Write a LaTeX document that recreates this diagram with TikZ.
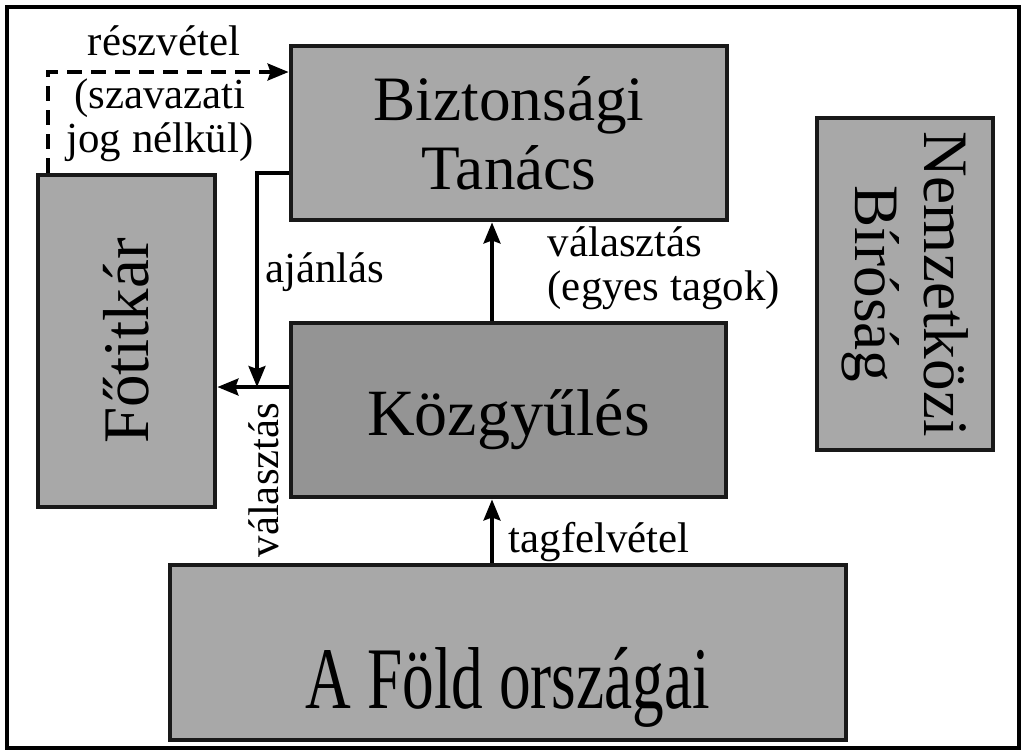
\documentclass[tikz,border=0pt]{standalone}
\usepackage{fontspec}
\setmainfont{Liberation Serif}
\usetikzlibrary{arrows.meta}

\tikzset{
  box/.style={draw=black!90,line width=1.4pt,fill=black!34,inner sep=0pt,align=center},
  lbl/.style={font=\fontsize{12.2}{12.6}\selectfont,inner sep=0pt},
  arr/.style={line width=0.9pt,-{Stealth[length=2.1mm,width=1.7mm,inset=0.3mm]}},
}

\begin{document}
\begin{tikzpicture}
  \useasboundingbox (0,0) rectangle (10.26,-7.55);
  \draw [line width=0.9pt] (0.07,-0.07) rectangle (10.19,-7.48);
  % boxes
  \node [box,minimum width=4.36cm,minimum height=1.74cm,font=\fontsize{18}{19.6}\selectfont] (bt) at (5.09,-1.33) {Biztonsági\\Tanács};
  \node [box,fill=black!42,minimum width=4.35cm,minimum height=1.74cm,text height=0.55cm,text depth=0.05cm,font=\fontsize{18.8}{20}\selectfont] (kgy) at (5.085,-4.10) {Közgyűlés};
  \node [box,rotate=90,minimum width=3.32cm,minimum height=1.77cm,font=\fontsize{18.5}{20}\selectfont] (ftk) at (1.265,-3.41) {Főtitkár};
  \node [box,rotate=-90,minimum width=3.32cm,minimum height=1.76cm,font=\fontsize{18}{19.8}\selectfont] (nb) at (9.05,-2.84) {Nemzetközi\\Bíróság};
  \node [box,minimum width=6.76cm,minimum height=1.75cm,text height=1.2cm,text depth=0.09cm,font=\fontsize{25}{30}\selectfont] (fold) at (5.08,-6.525) {\scalebox{0.72}[1]{A Föld országai}};
  % connectors
  \coordinate (r) at (0.48,-0.72);
  \draw [arr,dash pattern=on 0.15cm off 0.09cm] (r |- ftk.east) -- (r) -- (r -| bt.west);
  \coordinate (a1) at (2.57,-1.73);
  \coordinate (a2) at (2.57,-3.87);
  \draw [arr] (a1 -| bt.west) -- (a1) -- (a2);
  \draw [arr] (a2 -| kgy.west) -- (a2 -| ftk.south);
  \coordinate (m) at (4.92,-5.3);
  \draw [arr] (m |- kgy.north) -- (m |- bt.south);
  \draw [arr] (m |- fold.north) -- (m |- kgy.south);
  % labels
  \node [lbl] (resz) at (1.64,-0.41) {részvétel};
  \node [lbl,align=center] (szav) at (1.60,-1.20) {(szavazati\\jog nélkül)};
  \node [lbl] (ajan) at (3.25,-2.72) {ajánlás};
  \node [lbl,align=left,anchor=west] (val) at (5.47,-2.68) {választás\\(egyes tagok)};
  \node [lbl,anchor=west] (tagf) at (5.08,-5.42) {tagfelvétel};
  \node [lbl,rotate=90] (valf) at (2.64,-4.80) {választás};
\end{tikzpicture}
\end{document}
